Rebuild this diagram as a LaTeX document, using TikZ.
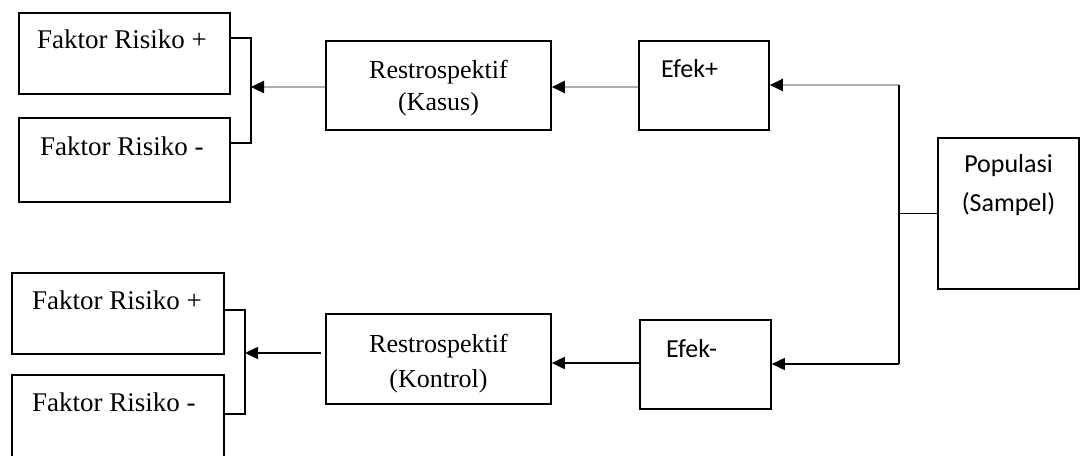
\documentclass[tikz,border=0pt]{standalone}
\usepackage{fontspec}
\setmainfont{Liberation Serif}
\newfontfamily\calib{Carlito}
\usetikzlibrary{arrows.meta}
\begin{document}
\begin{tikzpicture}[x=1pt,y=-1pt,
  box/.style={draw, line width=1.6pt, inner sep=0pt},
  ser/.style={font=\fontsize{26}{30}\selectfont, inner sep=0pt},
  serw/.style={font=\fontsize{27}{30}\selectfont, inner sep=0pt},
  san/.style={font=\calib\fontsize{26}{30}\selectfont, inner sep=0pt},
  blk/.style={line width=1.6pt, color=black},
  gry/.style={line width=2.4pt, color=black!32},
  tip/.style={-{Triangle[length=13pt,width=12pt,color=black]}},
]
\useasboundingbox (0,0) rectangle (1083,455);
\clip (0,0) rectangle (1083,455);

% ---- boxes ----
\node[box, minimum width=211pt, minimum height=81pt] (frp1) at (124.5,53.5) {};
\node[box, minimum width=211pt, minimum height=84pt] (frm1) at (124.5,160) {};
\node[box, minimum width=225pt, minimum height=89pt] (res1) at (438.5,85.5) {};
\node[box, minimum width=130pt, minimum height=89pt] (efp)  at (704,85.5) {};
\node[box, minimum width=141pt, minimum height=151pt] (pop) at (1008.5,213.5) {};
\node[box, minimum width=212pt, minimum height=81pt] (frp2) at (118,313.5) {};
\node[box, minimum width=212pt, minimum height=100pt] (frm2) at (118,425) {};
\node[box, minimum width=225pt, minimum height=90pt] (res2) at (438.5,359) {};
\node[box, minimum width=131pt, minimum height=89pt] (efm)  at (705.5,364.5) {};

% ---- texts ----
\node[serw, anchor=base west] (t1) at (37,48) {Faktor Risiko +};
\node[serw, anchor=base west] (t2) at (40,155) {Faktor Risiko -};
\node[ser, anchor=base] (t3) at (438.5,78) {Restrospektif};
\node[ser, anchor=base] (t4) at (438.5,110) {(Kasus)};
\node[san, anchor=base west] (t5) at (661,77) {Efek+};
\node[san, anchor=base] (t6) at (1008.5,172) {Populasi};
\node[san, anchor=base] (t7) at (1008.5,211) {(Sampel)};
\node[serw, anchor=base west] (t8) at (32,309) {Faktor Risiko +};
\node[serw, anchor=base west] (t9) at (32,411) {Faktor Risiko -};
\node[ser, anchor=base] (t10) at (438.5,352) {Restrospektif};
\node[ser, anchor=base] (t11) at (438.5,387) {(Kontrol)};
\node[san, anchor=base west] (t12) at (666,357) {Efek-};

% ---- junction points ----
\coordinate (ja) at (251,38);
\coordinate (jb) at (251,143);
\coordinate (jm) at (251,87);
\coordinate (ka) at (245,310);
\coordinate (kb) at (245,414);
\coordinate (km) at (245,353);
\coordinate (ua) at (899,85);
\coordinate (ub) at (899,364);

% ---- brackets joining the risk factor boxes ----
\draw[blk] (frp1.east |- ja) -- (ja) -- (jb) -- (frm1.east |- jb);
\draw[blk] (frp2.east |- ka) -- (ka) -- (kb) -- (frm2.east |- kb);

% ---- case branch (grey lines) ----
\draw[gry, tip] (ua) -- (efp.east |- ua);
\draw[gry, tip] (efp.west |- jm) -- (res1.east |- jm);
\draw[gry, tip] (res1.west |- jm) -- (jm);

% ---- control branch ----
\draw[blk, tip] (ub) -- (efm.east |- ub);
\draw[blk, tip] (efm.west |- 0,363) -- (res2.east |- 0,363);
\draw[blk, tip] ([xshift=-4pt]res2.west |- km) -- (km);

% ---- trunk from population ----
\draw[blk] (ua) -- (ub);
\draw[blk] (pop.west) -- (pop.west -| ua);
\end{tikzpicture}
\end{document}
